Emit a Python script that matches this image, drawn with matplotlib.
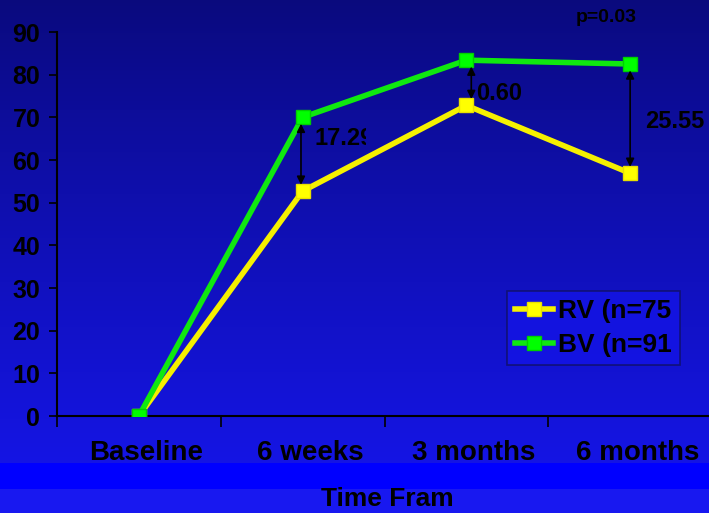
from matplotlib import pyplot as plt
from matplotlib.transforms import Bbox, TransformedBbox
import numpy as np

# data
categories = ['Baseline', '6 weeks', '3 months', '6 months']
rv_values = [0, 52.7, 72.8, 56.9]
bv_values = [0, 70.0, 83.4, 82.5]
gap_labels = ['', '17.29', '0.60', '25.55']
legend_labels = ['RV (n=75', 'BV (n=91']
y_ticks = [0, 10, 20, 30, 40, 50, 60, 70, 80, 90]

plt.rcParams['font.family'] = ['Liberation Sans', 'DejaVu Sans']
plt.rcParams['font.weight'] = 'bold'

fig = plt.figure(figsize=(7.09, 5.13), dpi=100)

# background: dark navy at the top fading to bright blue, plus a flat band near the bottom
bg = fig.add_axes([0, 0, 1, 1], zorder=0)
rows = 513
t = np.linspace(0, 1, rows)
top = np.array([10, 10, 125]) / 255
bot = np.array([22, 22, 238]) / 255
img = top[None, :] * (1 - t[:, None] ** 0.9) + bot[None, :] * t[:, None] ** 0.9
img[463:489] = np.array([0, 0, 255]) / 255
img[489:] = np.array([24, 24, 240]) / 255
bg.imshow(img[:, None, :].repeat(4, axis=1), aspect='auto', extent=[0, 1, 0, 1])
bg.axis('off')

ax = fig.add_axes([57 / 709, 97 / 513, 655 / 709, 384 / 513], zorder=1)
ax.patch.set_alpha(0)

x = np.arange(len(categories)) + 0.5
ax.plot(x, rv_values, color='#f5f000', lw=4, marker='s', ms=10,
        markerfacecolor='#ffff00', markeredgecolor='#e8e000', label=legend_labels[0], zorder=3)
ax.plot(x, bv_values, color='#10e810', lw=4, marker='s', ms=10,
        markerfacecolor='#00ff00', markeredgecolor='#00d000', label=legend_labels[1], zorder=4)

# double arrows with the gap between the two groups
offsets = [0, -0.01, 0.03, 0.0]
text_pos = [None, (0.07, 65.0), (0.06, 75.6), (0.09, 69.0)]
for i in range(1, len(categories)):
    xi = x[i] + offsets[i]
    ax.annotate('', xy=(xi, bv_values[i] - 1.5), xytext=(xi, rv_values[i] + 1.5),
                arrowprops=dict(arrowstyle='<|-|>', color='black', lw=1.2,
                                mutation_scale=12, shrinkA=0, shrinkB=0), zorder=5)
    txt = ax.text(x[i] + text_pos[i][0], text_pos[i][1], gap_labels[i], fontsize=17,
                  fontweight='bold', color='black', va='center', ha='left', zorder=5)
    if i == 1:
        # the first label is cut off on its right side in the original
        txt.set_clip_box(TransformedBbox(Bbox([[x[i], 55], [x[i] + 0.385, 75]]), ax.transData))
        txt.set_clip_on(True)

ax.text(x[3] - 0.33, 93.3, 'p=0.03', fontsize=14, fontweight='bold', color='black',
        ha='left', va='center', clip_on=False)

ax.set_xlim(0, 4)
ax.set_ylim(0, 90)
ax.set_yticks(y_ticks)
ax.set_yticklabels([str(v) for v in y_ticks], fontsize=18, fontweight='bold')
ax.set_xticks([0, 1, 2, 3, 4])
ax.set_xticklabels([])
ax.set_xticks(x + 0.045, minor=True)
ax.set_xticklabels(categories, minor=True, fontsize=20, fontweight='bold')
ax.tick_params(axis='x', which='minor', length=0, pad=17)
ax.tick_params(axis='x', which='major', length=8, direction='out', width=1.2)
ax.tick_params(axis='y', length=6, direction='out', width=1.2, pad=6)
for s in ['top', 'right']:
    ax.spines[s].set_visible(False)
for s in ['left', 'bottom']:
    ax.spines[s].set_linewidth(1.5)
    ax.spines[s].set_color('black')

fig.text(387 / 709, 1 - 499 / 513, 'Time Fram', fontsize=19, fontweight='bold',
         ha='center', va='center')

leg = ax.legend(loc='upper left', bbox_to_anchor=(450 / 655, 1 - 259 / 384), fontsize=19,
                frameon=True, fancybox=False, edgecolor='#101060', facecolor='#1414e6',
                handlelength=1.45, handletextpad=0.2, borderpad=0.3, labelspacing=0.4,
                borderaxespad=0)
leg.get_frame().set_linewidth(1.2)

fig.savefig('out.png', dpi=100)
